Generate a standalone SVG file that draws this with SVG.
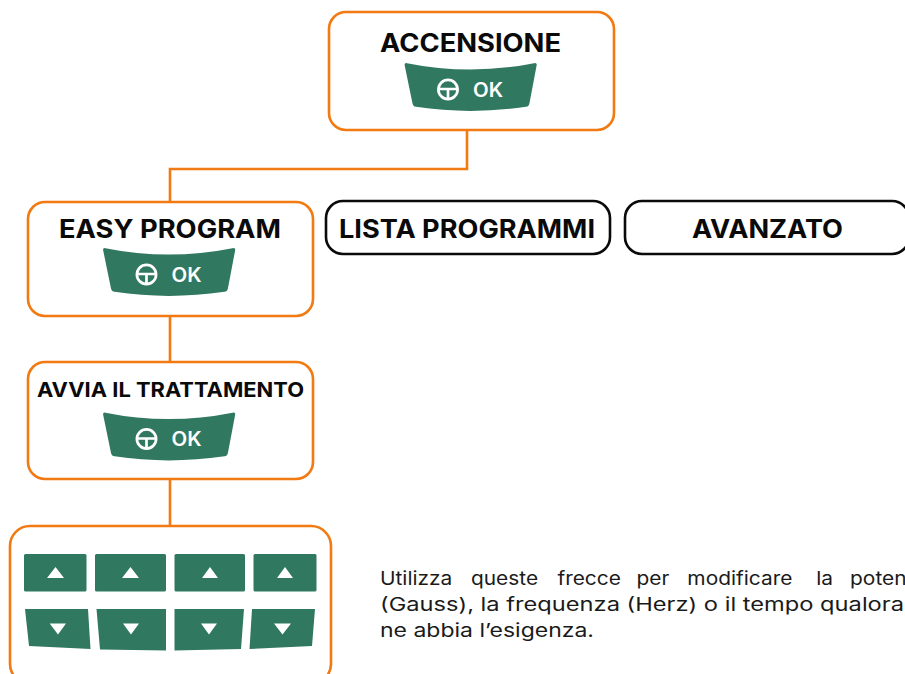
<svg xmlns="http://www.w3.org/2000/svg" xmlns:xlink="http://www.w3.org/1999/xlink" width="905" height="674" viewBox="0 0 905 674">
<style>
.o{fill:#fff;stroke:#f27a12;stroke-width:2.6}
.k{fill:#fff;stroke:#0a0a0a;stroke-width:2.6}
.c{fill:none;stroke:#f27a12;stroke-width:2.6}
.t{font-family:"Inter","Liberation Sans",sans-serif;font-weight:700;fill:#0a0a0a}
.b{font-family:"Inter","Liberation Sans",sans-serif;font-size:18.5px;fill:#1a1a1a}
.g{fill:#317861}
.w{fill:#fff}
.ok{font-family:"Inter","Liberation Sans",sans-serif;font-weight:600;font-size:19.5px;fill:#fff}
.i{fill:none;stroke:#fff;stroke-width:2.7}
</style>
<defs>
<g id="okbtn">
<path class="g" d="M404.6 65Q404.4 62.6 407 63.2Q470 76 534 63.2Q537 62.6 536.7 65L529.5 103Q529 106.4 526 106.8Q470 115 416 106.8Q413 106.4 412.4 103Z"/>
<circle class="i" cx="448" cy="89.5" r="9.6"/>
<path class="i" d="M438 89H458M448 89V99"/>
<text class="ok" x="473" y="96.5" textLength="30" lengthAdjust="spacingAndGlyphs">OK</text>
</g>
</defs>
<g id="connectors">
<path class="c" d="M467 130V169H170V202"/>
<path class="c" d="M170 316V362"/>
<path class="c" d="M170 479V526"/>
</g>
<g id="accensione">
<rect class="o" x="329" y="12" width="285" height="118" rx="17"/>
<text class="t" x="380" y="51.5" font-size="25" textLength="181" lengthAdjust="spacingAndGlyphs">ACCENSIONE</text>
<use xlink:href="#okbtn"/>
</g>
<g id="easy-program">
<rect class="o" x="28" y="202" width="285" height="114" rx="17"/>
<text class="t" x="59" y="237.5" font-size="25" textLength="222" lengthAdjust="spacingAndGlyphs">EASY PROGRAM</text>
<use xlink:href="#okbtn" transform="translate(-301.5 185)"/>
</g>
<g id="lista-programmi">
<rect class="k" x="326" y="201" width="284" height="53" rx="17"/>
<text class="t" x="339" y="237.5" font-size="25" textLength="256" lengthAdjust="spacingAndGlyphs">LISTA PROGRAMMI</text>
</g>
<g id="avanzato">
<rect class="k" x="625" y="201" width="284" height="53" rx="17"/>
<text class="t" x="692" y="237.5" font-size="25" textLength="151" lengthAdjust="spacingAndGlyphs">AVANZATO</text>
</g>
<g id="avvia">
<rect class="o" x="28" y="362" width="285" height="117" rx="17"/>
<text class="t" x="37" y="397" font-size="20.5" textLength="267" lengthAdjust="spacingAndGlyphs">AVVIA IL TRATTAMENTO</text>
<use xlink:href="#okbtn" transform="translate(-301.5 349.5)"/>
</g>
<g id="frecce">
<rect class="o" x="10" y="526" width="321" height="158" rx="20"/>
<rect class="g" x="24" y="554" width="62.5" height="37.5" rx="1.5"/>
<rect class="g" x="95" y="554" width="71" height="37.5" rx="1.5"/>
<rect class="g" x="174.5" y="554" width="70.5" height="37.5" rx="1.5"/>
<rect class="g" x="253.5" y="554" width="63" height="37.5" rx="1.5"/>
<path class="w" d="M47 578L55.5 567L64 578Z M122 578L130.5 567L139 578Z M202 578L210 567L218 578Z M277 578L285 567L293 578Z"/>
<path class="g" d="M25 609H88L90.5 649L29 646Z M96.5 609H166V650.5L100 649.5Z M174.5 609H244L241 649L174.5 650.5Z M252 609H315L312 646L249.5 649Z"/>
<path class="w" d="M49.7 623.5H66L58 634.5Z M123 623.5H139L131 634.5Z M201 623.5H217L209 634.5Z M274 623.5H291L282.5 634.5Z"/>
</g>
<g id="nota">
<text class="b" transform="translate(380 585) scale(1.13 1)" xml:space="preserve"><tspan x="0">Utilizza </tspan><tspan x="80.5">queste </tspan><tspan x="157">frecce </tspan><tspan x="227">per </tspan><tspan x="272">modificare </tspan><tspan x="386">la </tspan><tspan x="416">poten</tspan></text>
<text class="b" x="380" y="611" textLength="524" lengthAdjust="spacingAndGlyphs">(Gauss), la frequenza (Herz) o il tempo qualora</text>
<text class="b" x="380" y="637" textLength="214" lengthAdjust="spacingAndGlyphs">ne abbia l’esigenza.</text>
</g>
</svg>
